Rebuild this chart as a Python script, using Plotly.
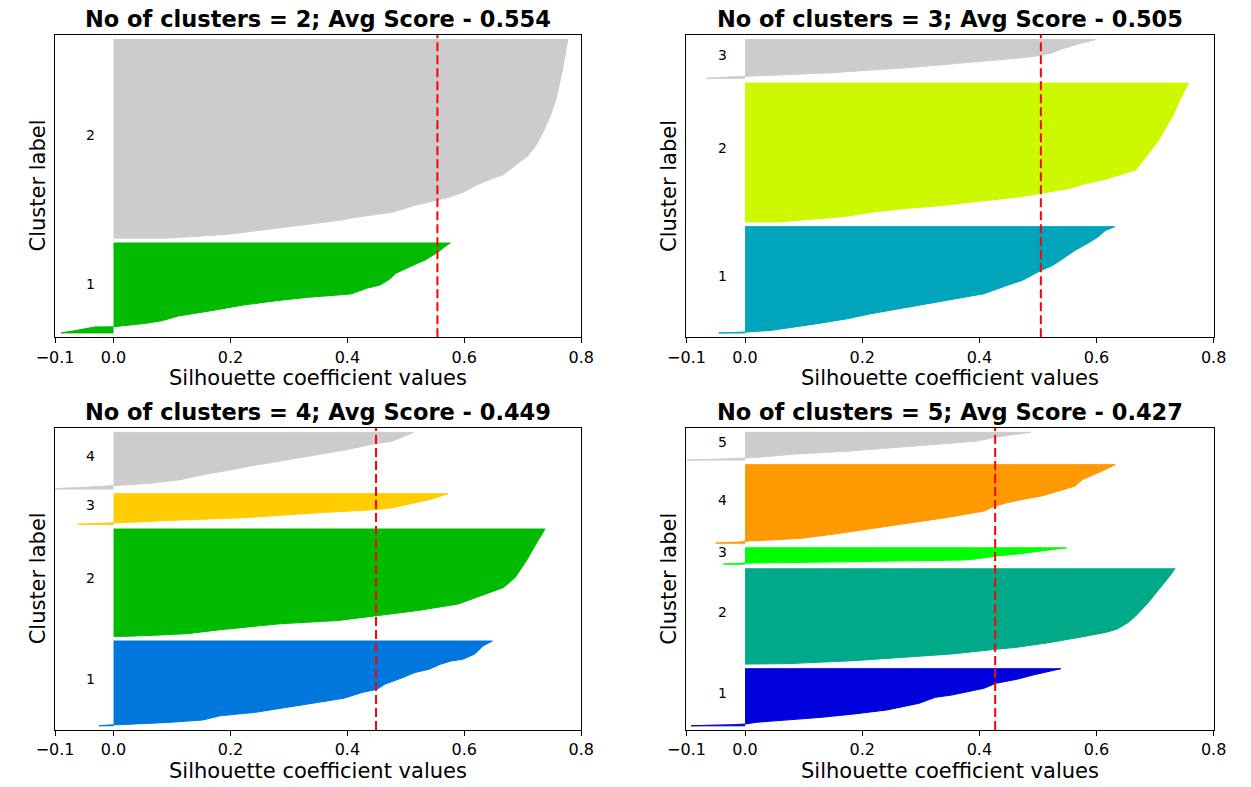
import plotly.graph_objects as go

# ---------------- data ----------------
N_CLUSTERS = [2, 3, 4, 5]
AVG_SCORES = [0.554, 0.505, 0.449, 0.427]
N_SAMPLES = 660

SIZES_K2 = [206, 454]
SIZES_K3 = [247, 322, 91]
SIZES_K4 = [200, 253, 73, 134]
SIZES_K5 = [137, 228, 40, 188, 67]

# sorted silhouette values read at fractional ranks inside each cluster
RANK_K2_C1 = [0, 0.02, 0.04, 0.06, 0.066, 0.069, 0.088, 0.107, 0.136, 0.188, 0.247, 0.31, 0.358, 0.396, 0.433, 0.496, 0.533, 0.596, 0.663, 0.719, 0.766, 0.811, 0.903, 0.95, 1.0]
SIL_K2_C1 = [-0.09, -0.07, -0.05, -0.037, -0.033, 0.0, 0.028, 0.056, 0.083, 0.111, 0.167, 0.222, 0.278, 0.333, 0.406, 0.433, 0.456, 0.472, 0.483, 0.5, 0.517, 0.533, 0.556, 0.565, 0.576]
RANK_K2_C2 = [0, 0.01, 0.02, 0.05, 0.09, 0.105, 0.13, 0.165, 0.19, 0.205, 0.23, 0.27, 0.3, 0.32, 0.38, 0.415, 0.465, 0.53, 0.615, 0.7, 0.78, 0.865, 1.0]
SIL_K2_C2 = [0.09, 0.145, 0.196, 0.279, 0.387, 0.413, 0.476, 0.515, 0.553, 0.572, 0.597, 0.623, 0.648, 0.667, 0.693, 0.709, 0.722, 0.734, 0.747, 0.757, 0.763, 0.769, 0.777]

RANK_K3_C1 = [0, 0.005, 0.01, 0.025, 0.0875, 0.134, 0.18, 0.244, 0.27, 0.3375, 0.369, 0.447, 0.494, 0.5875, 0.634, 0.681, 0.775, 0.8375, 0.9, 0.9625, 1.0]
SIL_K3_C1 = [-0.045, -0.02, 0.005, 0.045, 0.123, 0.175, 0.214, 0.278, 0.31, 0.376, 0.408, 0.447, 0.473, 0.505, 0.525, 0.538, 0.563, 0.583, 0.602, 0.615, 0.631]
RANK_K3_C2 = [0, 0.009, 0.019, 0.037, 0.073, 0.098, 0.117, 0.134, 0.158, 0.182, 0.206, 0.242, 0.278, 0.302, 0.338, 0.374, 0.444, 0.516, 0.588, 0.683, 0.779, 0.875, 0.947, 1.0]
SIL_K3_C2 = [0.06, 0.083, 0.111, 0.167, 0.222, 0.278, 0.333, 0.367, 0.417, 0.472, 0.505, 0.555, 0.583, 0.611, 0.639, 0.667, 0.68, 0.693, 0.706, 0.719, 0.732, 0.742, 0.751, 0.757]
RANK_K3_C3 = [0, 0.026, 0.05, 0.06, 0.068, 0.103, 0.145, 0.214, 0.274, 0.359, 0.444, 0.53, 0.59, 0.658, 0.744, 0.829, 0.915, 0.983, 1.0]
SIL_K3_C3 = [-0.066, -0.04, -0.005, 0.01, 0.02, 0.084, 0.149, 0.214, 0.278, 0.343, 0.408, 0.473, 0.505, 0.525, 0.538, 0.557, 0.576, 0.596, 0.598]

RANK_K4_C1 = [0, 0.008, 0.016, 0.039, 0.067, 0.118, 0.157, 0.216, 0.275, 0.325, 0.392, 0.431, 0.49, 0.569, 0.627, 0.667, 0.725, 0.765, 0.784, 0.843, 0.941, 1.0]
SIL_K4_C1 = [-0.025, -0.01, 0.02, 0.094, 0.152, 0.183, 0.241, 0.292, 0.349, 0.394, 0.425, 0.451, 0.464, 0.495, 0.515, 0.54, 0.559, 0.578, 0.597, 0.617, 0.632, 0.648]
RANK_K4_C2 = [0, 0.01, 0.025, 0.062, 0.117, 0.148, 0.194, 0.24, 0.302, 0.394, 0.425, 0.455, 0.548, 0.702, 0.855, 1.0]
SIL_K4_C2 = [0.02, 0.07, 0.126, 0.183, 0.285, 0.385, 0.449, 0.52, 0.59, 0.636, 0.655, 0.667, 0.687, 0.706, 0.722, 0.738]
RANK_K4_C3 = [0, 0.02, 0.043, 0.054, 0.075, 0.129, 0.215, 0.376, 0.484, 0.538, 0.699, 0.806, 0.914, 1.0]
SIL_K4_C3 = [-0.062, -0.04, -0.01, 0.0, 0.04, 0.094, 0.222, 0.349, 0.451, 0.476, 0.515, 0.54, 0.559, 0.572]
RANK_K4_C4 = [0, 0.012, 0.029, 0.047, 0.058, 0.07, 0.099, 0.157, 0.262, 0.337, 0.407, 0.494, 0.61, 0.698, 0.797, 0.843, 0.901, 0.988, 1.0]
SIL_K4_C4 = [-0.105, -0.09, -0.05, -0.02, -0.005, 0.01, 0.06, 0.11, 0.158, 0.2, 0.234, 0.285, 0.349, 0.4, 0.445, 0.476, 0.49, 0.511, 0.513]

RANK_K5_C1 = [0, 0.01, 0.02, 0.03, 0.061, 0.102, 0.149, 0.207, 0.277, 0.394, 0.499, 0.539, 0.597, 0.657, 0.744, 0.814, 0.89, 0.947, 1.0]
SIL_K5_C1 = [-0.092, -0.06, -0.02, 0.0, 0.019, 0.075, 0.131, 0.186, 0.242, 0.297, 0.325, 0.353, 0.381, 0.408, 0.428, 0.464, 0.492, 0.519, 0.539]
RANK_K5_C2 = [0, 0.005, 0.036, 0.078, 0.106, 0.155, 0.176, 0.225, 0.253, 0.28, 0.331, 0.366, 0.436, 0.505, 0.627, 0.732, 0.819, 0.923, 1.0]
SIL_K5_C2 = [0.04, 0.075, 0.186, 0.297, 0.353, 0.428, 0.464, 0.519, 0.547, 0.57, 0.615, 0.635, 0.654, 0.667, 0.686, 0.7, 0.712, 0.725, 0.734]
RANK_K5_C3 = [0, 0.02, 0.05, 0.07, 0.1, 0.15, 0.2, 0.25, 0.3, 0.4, 0.5, 0.6, 0.76, 0.9, 1.0]
SIL_K5_C3 = [-0.037, -0.025, -0.008, 0.01, 0.08, 0.2, 0.3, 0.37, 0.39, 0.41, 0.43, 0.46, 0.5, 0.53, 0.549]
RANK_K5_C4 = [0, 0.008, 0.017, 0.021, 0.03, 0.042, 0.063, 0.114, 0.156, 0.219, 0.283, 0.325, 0.367, 0.409, 0.473, 0.515, 0.557, 0.599, 0.641, 0.684, 0.726, 0.81, 0.873, 0.937, 0.992, 1.0]
SIL_K5_C4 = [-0.05, -0.03, -0.005, 0.0, 0.01, 0.05, 0.097, 0.15, 0.188, 0.246, 0.311, 0.343, 0.376, 0.408, 0.427, 0.447, 0.473, 0.505, 0.525, 0.544, 0.563, 0.576, 0.596, 0.615, 0.63, 0.632]
RANK_K5_C5 = [0, 0.012, 0.035, 0.059, 0.07, 0.094, 0.153, 0.212, 0.329, 0.447, 0.506, 0.624, 0.682, 0.824, 0.894, 0.976, 1.0]
SIL_K5_C5 = [-0.1, -0.08, -0.04, -0.01, 0.0, 0.02, 0.05, 0.084, 0.181, 0.25, 0.291, 0.363, 0.395, 0.427, 0.453, 0.486, 0.488]

X_TICKS = [-0.1, 0.0, 0.2, 0.4, 0.6, 0.8]
X_TICK_LABELS = ["\u22120.1", "0.0", "0.2", "0.4", "0.6", "0.8"]

# ---------------- tables built from the arrays ----------------
SIZES = {2: SIZES_K2, 3: SIZES_K3, 4: SIZES_K4, 5: SIZES_K5}
CURVES = {
    2: [(RANK_K2_C1, SIL_K2_C1), (RANK_K2_C2, SIL_K2_C2)],
    3: [(RANK_K3_C1, SIL_K3_C1), (RANK_K3_C2, SIL_K3_C2), (RANK_K3_C3, SIL_K3_C3)],
    4: [(RANK_K4_C1, SIL_K4_C1), (RANK_K4_C2, SIL_K4_C2), (RANK_K4_C3, SIL_K4_C3), (RANK_K4_C4, SIL_K4_C4)],
    5: [(RANK_K5_C1, SIL_K5_C1), (RANK_K5_C2, SIL_K5_C2), (RANK_K5_C3, SIL_K5_C3),
        (RANK_K5_C4, SIL_K5_C4), (RANK_K5_C5, SIL_K5_C5)],
}

# ---------------- style ----------------
# nipy_spectral colormap control points
_NS_R = [0, .4667, .5333, 0, 0, 0, 0, 0, 0, 0, 0, 0, 0, .7333, .9333, 1, 1, 1, .8667, .8, .8]
_NS_G = [0, 0, 0, 0, 0, .4667, .6, .6667, .6667, .6, .7333, .8667, 1, 1, .9333, .8, .6, 0, 0, 0, .8]
_NS_B = [0, .5333, .6, .6667, .8667, .8667, .8667, .6667, .5333, 0, 0, 0, 0, 0, 0, 0, 0, 0, 0, 0, .8]


def nipy_spectral(t):
    pos = t * 20
    i = min(int(pos), 19)
    f = pos - i
    ch = [c[i] + (c[i + 1] - c[i]) * f for c in (_NS_R, _NS_G, _NS_B)]
    return "rgb(%d,%d,%d)" % tuple(round(v * 255) for v in ch)


W, H = 1251, 787
AXES_PX = {2: (37, 577, 34.7, 337.3), 3: (685, 1226, 34.7, 337.3),
           4: (37, 577, 427.7, 730.0), 5: (685, 1226, 427.7, 730.0)}
FONT = "DejaVu Sans"

fig = go.Figure()
layout = dict(width=W, height=H, autosize=False, margin=dict(l=0, r=0, t=0, b=0, pad=0),
              paper_bgcolor="white", plot_bgcolor="white",
              font=dict(family=FONT, color="black"), showlegend=False)
annotations = []
shapes = []

for idx, (k, avg) in enumerate(zip(N_CLUSTERS, AVG_SCORES), start=1):
    sfx = "" if idx == 1 else str(idx)
    xa, ya = "x" + sfx, "y" + sfx
    l, r, t, b = AXES_PX[k]
    ymax = N_SAMPLES + (k + 1) * 10
    layout["xaxis" + sfx] = dict(
        domain=[l / W, r / W], anchor=ya, range=[-0.1, 0.8],
        tickvals=X_TICKS, ticktext=X_TICK_LABELS, ticks="outside", ticklen=5,
        tickwidth=1, tickcolor="black", tickfont=dict(size=16, family=FONT, color="black"),
        showline=True, linecolor="black", linewidth=1, mirror=True,
        showgrid=False, zeroline=False, fixedrange=True)
    layout["yaxis" + sfx] = dict(
        domain=[1 - b / H, 1 - t / H], anchor=xa, range=[0, ymax],
        showticklabels=False, ticks="", showline=True, linecolor="black",
        linewidth=1, mirror=True, showgrid=False, zeroline=False, fixedrange=True)

    y_lower = 10
    for ci, (size, (ranks, sils)) in enumerate(zip(SIZES[k], CURVES[k])):
        color = nipy_spectral((ci + 1) / k)
        ys = [y_lower + q * (size - 1) for q in ranks]
        xs = [0] + list(sils) + [0]
        yy = [y_lower] + ys + [y_lower + size - 1]
        fig.add_trace(go.Scatter(x=xs, y=yy, mode="lines", fill="toself",
                                 fillcolor=color, line=dict(color=color, width=1),
                                 xaxis=xa, yaxis=ya, hoverinfo="skip"))
        annotations.append(dict(x=-0.05, y=y_lower + 0.5 * size, xref=xa, yref=ya,
                                text=str(ci + 1), showarrow=False, xanchor="left",
                                yanchor="middle", yshift=4,
                                font=dict(size=14, family=FONT, color="black")))
        y_lower += size + 10

    shapes.append(dict(type="line", xref=xa, yref=ya + " domain", x0=avg, x1=avg,
                       y0=0, y1=1, line=dict(color="red", width=2, dash="9px,4px")))

    cx = (l + r) / 2 / W
    annotations.append(dict(x=cx, y=1 - (t - 16) / H, xref="paper", yref="paper",
                            text="<b>No of clusters = %d; Avg Score - %.3f</b>" % (k, avg),
                            showarrow=False, xanchor="center", yanchor="middle",
                            font=dict(size=22.5, family=FONT, color="black")))
    annotations.append(dict(x=cx, y=1 - (b + 41) / H, xref="paper", yref="paper",
                            text="Silhouette coefficient values", showarrow=False,
                            xanchor="center", yanchor="middle",
                            font=dict(size=21, family=FONT, color="black")))
    annotations.append(dict(x=(l - 18) / W, y=1 - (t + b) / 2 / H, xref="paper", yref="paper",
                            text="Cluster label", showarrow=False, textangle=-90,
                            xanchor="center", yanchor="middle",
                            font=dict(size=21, family=FONT, color="black")))

layout["annotations"] = annotations
layout["shapes"] = shapes
fig.update_layout(**layout)
fig.write_html("out.html",
               config={"responsive": False, "displayModeBar": False},
               post_script="document.body.style.margin='0';document.body.style.overflow='hidden';")
